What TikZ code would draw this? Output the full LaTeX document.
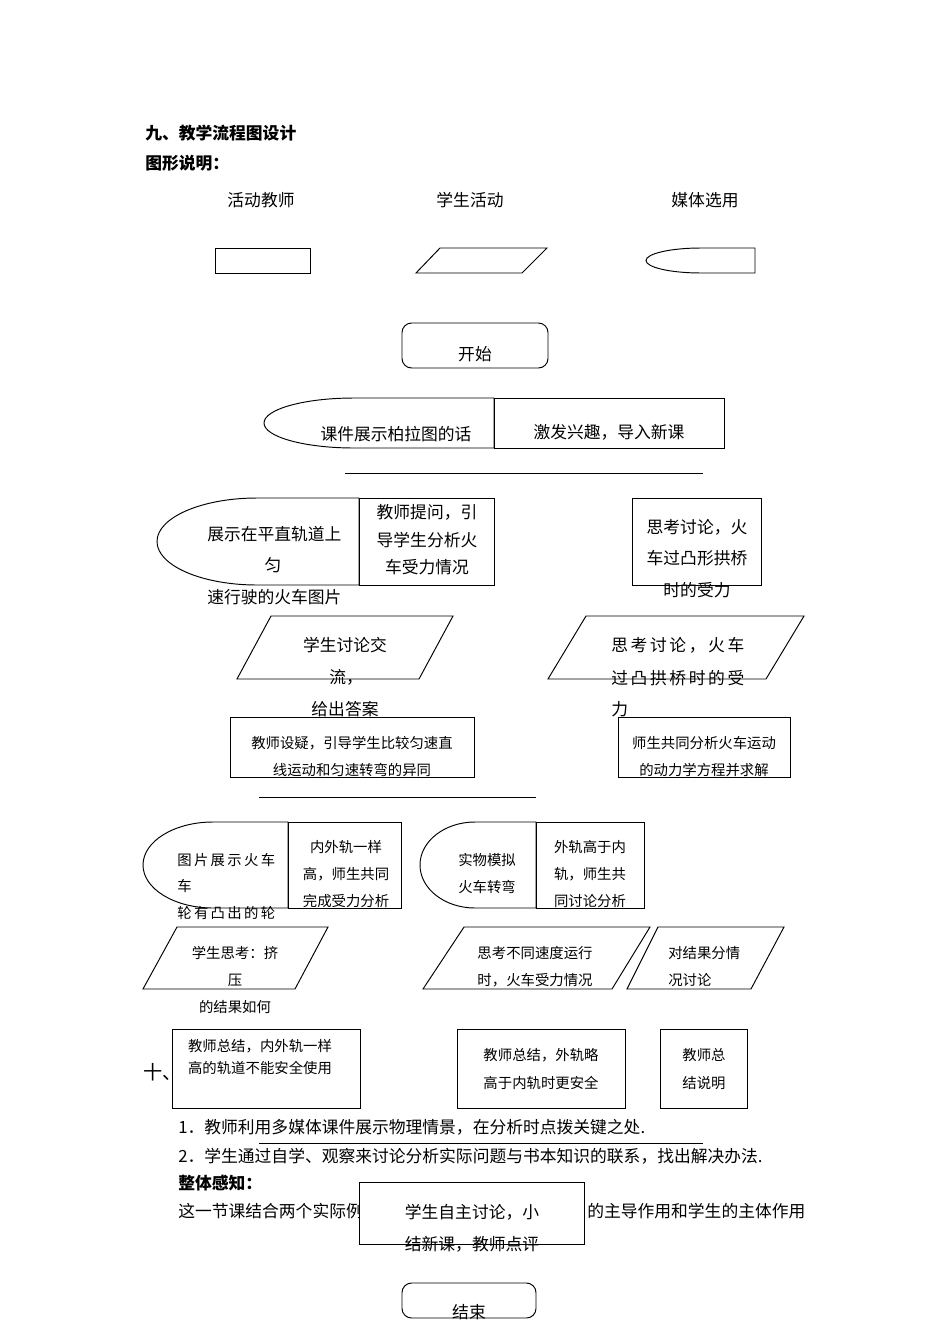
\documentclass[tikz,border=0pt]{standalone}
\usepackage{fontspec}
\setmainfont{Noto Sans CJK SC}
\usetikzlibrary{positioning}
\newcommand{\mediashape}[5]{\draw[box] (#2,#3) -- (#1+#5,#3) arc[start angle=270, end angle=90, x radius=#5, y radius={(#4-#3)/2}] -- (#2,#4) -- cycle;}
\newcommand{\spreadline}[2]{\makebox[#1]{#2}}

\begin{document}
\begin{tikzpicture}[
    x=0.626pt, y=-0.626pt,
    box/.style={draw, line width=0.6pt},
    txt/.style={inner sep=0pt, font=\fontsize{10.5}{12}\selectfont},
    sml/.style={inner sep=0pt, font=\fontsize{9}{11}\selectfont},
    head/.style={inner sep=0pt, anchor=west, font=\fontsize{10.5}{12}\selectfont\bfseries}
]
    \useasboundingbox (0,0) rectangle (950,1344);

    \node[head] (h1) at (145,133) {九、教学流程图设计};
    \node[head] (h2) at (145,163) {图形说明：};
    \node[txt] (k1) at (261,200) {活动教师};
    \node[txt] (k2) at (470,200) {学生活动};
    \node[txt] (k3) at (705,200) {媒体选用};

    \draw[box] (215,248) rectangle (310,273);
    \draw[box] (416,273) -- (440,248) -- (547,248) -- (522,273) -- cycle;
    \mediashape{646}{755}{248}{273}{55}

    \draw[box, rounded corners=6pt] (402,323) rectangle (548,368);
    \node[txt] (start) at (475,354) {开始};

    \mediashape{264}{494}{398}{448}{90}
    \draw[box] (494,398) rectangle (724,448);
    \node[txt] (m1) at (396,434) {课件展示柏拉图的话};
    \node[txt] (r1) at (609,432) {激发兴趣，导入新课};
    \draw[box] (345,473) -- (703,473);

    \mediashape{157}{359}{498}{585}{100}
    \draw[box] (359,498) rectangle (494,585);
    \node[txt, anchor=west] (m2a) at (207,534) {展示在平直轨道上};
    \node[txt] (m2b) at (273,565) {匀};
    \node[txt, anchor=west] (m2c) at (207,597) {速行驶的火车图片};
    \node[txt] (r2a) at (427,512) {教师提问，引};
    \node[txt] (r2b) at (427,540) {导学生分析火};
    \node[txt] (r2c) at (427,567) {车受力情况};

    \draw[box] (632,498) rectangle (761,585);
    \node[txt] (r3a) at (697,527) {思考讨论，火};
    \node[txt] (r3b) at (697,558) {车过凸形拱桥};
    \node[txt] (r3c) at (697,590) {时的受力};

    \draw[box] (237,679) -- (271,616) -- (453,616) -- (419,679) -- cycle;
    \node[txt] (p1a) at (345,645) {学生讨论交};
    \node[txt, anchor=west] (p1b) at (329,677) {流，};
    \node[txt] (p1c) at (345,709) {给出答案};

    \draw[box] (548,679) -- (586,616) -- (804,616) -- (766,679) -- cycle;
    \node[txt, anchor=west] (p2a) at (611,645) {\spreadline{83.3pt}{思\hfill 考\hfill 讨\hfill 论\hfill ，\hfill 火\hfill 车}};
    \node[txt, anchor=west] (p2b) at (611,678) {\spreadline{83.3pt}{过\hfill 凸\hfill 拱\hfill 桥\hfill 时\hfill 的\hfill 受}};
    \node[txt, anchor=west] (p2c) at (611,709) {力};

    \draw[box] (230,717) rectangle (474,777);
    \node[sml] (r4a) at (352,743) {教师设疑，引导学生比较匀速直};
    \node[sml] (r4b) at (352,770) {线运动和匀速转弯的异同};
    \draw[box] (618,717) rectangle (790,777);
    \node[sml] (r5a) at (704,743) {师生共同分析火车运动};
    \node[sml] (r5b) at (704,770) {的动力学方程并求解};
    \draw[box] (259,797) -- (536,797);

    \mediashape{143}{288}{822}{908}{70}
    \draw[box] (288,822) rectangle (401,908);
    \node[sml, anchor=west] (m6a) at (177,860) {\spreadline{61.3pt}{图\hfill 片\hfill 展\hfill 示\hfill 火\hfill 车}};
    \node[sml, anchor=west] (m6b) at (177,886) {车};
    \node[sml, anchor=west] (m6c) at (177,913) {\spreadline{61.3pt}{轮\hfill 有\hfill 凸\hfill 出\hfill 的\hfill 轮}};
    \node[sml] (r6a) at (346,847) {内外轨一样};
    \node[sml] (r6b) at (346,874) {高，师生共同};
    \node[sml] (r6c) at (346,901) {完成受力分析};

    \mediashape{420}{536}{822}{908}{55}
    \draw[box] (536,822) rectangle (644,908);
    \node[sml] (m7a) at (487,860) {实物模拟};
    \node[sml] (m7b) at (487,887) {火车转弯};
    \node[sml] (r7a) at (590,847) {外轨高于内};
    \node[sml] (r7b) at (590,874) {轨，师生共};
    \node[sml] (r7c) at (590,901) {同讨论分析};

    \draw[box] (143,989) -- (177,927) -- (328,927) -- (295,989) -- cycle;
    \node[sml] (p3a) at (235,953) {学生思考：挤};
    \node[sml] (p3b) at (235,980) {压};
    \node[sml] (p3c) at (235,1007) {的结果如何};
    \draw[box] (423,989) -- (464,927) -- (650,927) -- (612,989) -- cycle;
    \node[sml] (p4a) at (535,953) {思考不同速度运行};
    \node[sml] (p4b) at (535,980) {时，火车受力情况};
    \draw[box] (627,989) -- (658,927) -- (784,927) -- (751,989) -- cycle;
    \node[sml, anchor=west] (p5a) at (668,953) {对结果分情};
    \node[sml, anchor=west] (p5b) at (668,980) {况讨论};

    \node[inner sep=0pt, anchor=west, font=\fontsize{12}{14}\selectfont] (h3) at (143,1072) {十、};
    \draw[box] (172,1029) rectangle (360,1108);
    \node[sml] (r8a) at (260,1046) {教师总结，内外轨一样};
    \node[sml] (r8b) at (260,1068) {高的轨道不能安全使用};
    \draw[box] (457,1029) rectangle (625,1108);
    \node[sml] (r9a) at (541,1055) {教师总结，外轨略};
    \node[sml] (r9b) at (541,1083) {高于内轨时更安全};
    \draw[box] (660,1029) rectangle (747,1108);
    \node[sml] (r10a) at (704,1055) {教师总};
    \node[sml] (r10b) at (704,1083) {结说明};

    \node[txt, anchor=west] (n1) at (178,1127) {1．教师利用多媒体课件展示物理情景，在分析时点拨关键之处.};
    \draw[box] (259,1143) -- (703,1143);
    \node[txt, anchor=west] (n2) at (178,1156) {2．学生通过自学、观察来讨论分析实际问题与书本知识的联系，找出解决办法.};
    \node[head] (h4) at (178,1183) {整体感知：};
    \node[txt, anchor=west] (n3a) at (178,1211) {这一节课结合两个实际例};
    \node[txt, anchor=west] (n3b) at (587,1211) {的主导作用和学生的主体作用};

    \draw[box, fill=white] (359,1182) rectangle (584,1244);
    \node[txt] (r11a) at (472,1212) {学生自主讨论，小};
    \node[txt] (r11b) at (472,1244) {结新课，教师点评};

    \draw[box, rounded corners=6pt] (402,1283) rectangle (536,1318);
    \node[txt] (end) at (469,1312) {结束};
\end{tikzpicture}
\end{document}
